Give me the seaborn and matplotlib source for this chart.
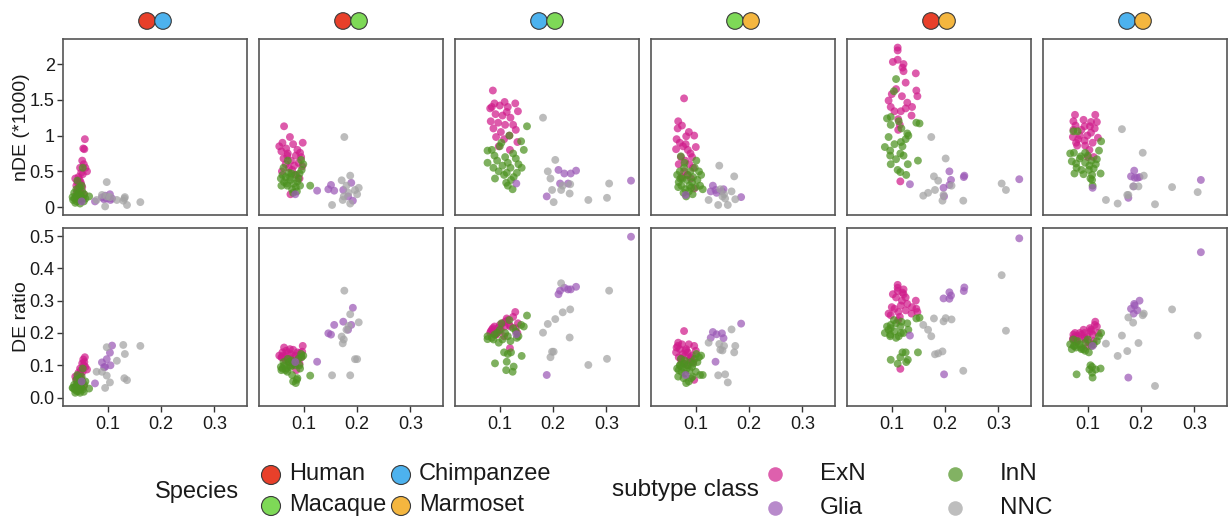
import matplotlib
matplotlib.use("Agg")
import matplotlib.pyplot as plt
from matplotlib.patches import Circle
import seaborn as sns
import pandas as pd

# ---------------- data: (x, nDE/1000, DE ratio) per subtype ----------------
HC_ExN = [(0.057,0.95,0.125),(0.054,0.82,0.118),(0.056,0.81,0.11),(0.052,0.65,0.106),(0.055,0.60,0.1),
          (0.048,0.55,0.09),(0.061,0.50,0.087),(0.050,0.48,0.085),(0.053,0.46,0.08),(0.045,0.42,0.077),
          (0.039,0.40,0.065),(0.047,0.38,0.07),(0.043,0.35,0.066),(0.050,0.32,0.06),(0.046,0.30,0.058),
          (0.041,0.30,0.055),(0.052,0.28,0.05),(0.044,0.25,0.05),(0.048,0.22,0.045),(0.042,0.20,0.04),
          (0.055,0.18,0.035),(0.051,0.12,0.03),(0.058,0.55,0.095),(0.049,0.35,0.072)]
HC_InN = [(0.035,0.10,0.03),(0.038,0.12,0.025),(0.040,0.15,0.035),(0.042,0.08,0.02),(0.044,0.18,0.04),
          (0.046,0.20,0.045),(0.048,0.05,0.015),(0.050,0.14,0.03),(0.052,0.22,0.05),(0.037,0.20,0.04),
          (0.041,0.25,0.055),(0.045,0.10,0.02),(0.047,0.28,0.06),(0.049,0.16,0.035),(0.053,0.12,0.025),
          (0.055,0.08,0.018),(0.039,0.06,0.015),(0.043,0.13,0.028),(0.051,0.30,0.065),(0.056,0.18,0.04),
          (0.043,0.37,0.07),(0.053,0.55,0.09),(0.065,0.15,0.028),(0.034,0.14,0.03),(0.058,0.12,0.05)]
HC_Glia = [(0.051,0.08,0.05),(0.076,0.08,0.044),(0.089,0.135,0.109),(0.093,0.11,0.094),(0.098,0.12,0.119),
           (0.104,0.18,0.139),(0.108,0.12,0.161),(0.105,0.10,0.1),(0.095,0.16,0.095)]
HC_NNC = [(0.098,0.35,0.156),(0.161,0.07,0.16),(0.132,0.14,0.135),(0.136,0.03,0.054),(0.095,0.01,0.03),
          (0.089,0.17,0.08),(0.117,0.10,0.114),(0.129,0.09,0.163),(0.131,0.12,0.06),(0.079,0.10,0.08),
          (0.104,0.14,0.047),(0.098,0.15,0.068)]

HM_ExN = [(0.063,1.13,0.155),(0.074,0.98,0.15),(0.098,0.90,0.16),(0.054,0.85,0.13),(0.060,0.90,0.14),
          (0.067,0.82,0.145),(0.080,0.88,0.148),(0.088,0.80,0.14),(0.093,0.76,0.138),(0.058,0.78,0.125),
          (0.070,0.75,0.12),(0.085,0.72,0.13),(0.095,0.70,0.125),(0.062,0.68,0.13),(0.076,0.65,0.135),
          (0.090,0.62,0.12),(0.066,0.60,0.115),(0.082,0.58,0.128),(0.097,0.57,0.142),(0.072,0.55,0.11),
          (0.078,0.52,0.1),(0.059,0.50,0.125),(0.086,0.45,0.085),(0.075,0.18,0.12),(0.092,0.40,0.105),
          (0.069,0.72,0.138)]
HM_InN = [(0.057,0.40,0.095),(0.060,0.45,0.09),(0.063,0.35,0.1),(0.066,0.42,0.085),(0.069,0.30,0.08),
          (0.072,0.48,0.11),(0.075,0.38,0.095),(0.078,0.25,0.07),(0.081,0.33,0.105),(0.084,0.45,0.1),
          (0.087,0.22,0.055),(0.090,0.40,0.12),(0.093,0.30,0.09),(0.096,0.52,0.125),(0.099,0.60,0.13),
          (0.062,0.55,0.11),(0.070,0.65,0.12),(0.080,0.20,0.05),(0.085,0.28,0.045),(0.074,0.42,0.1),
          (0.068,0.33,0.09),(0.088,0.36,0.06),(0.095,0.66,0.135),(0.077,0.47,0.115),(0.112,0.30,0.068),
          (0.058,0.30,0.085),(0.092,0.47,0.1)]
HM_Glia = [(0.125,0.23,0.111),(0.146,0.25,0.199),(0.151,0.31,0.195),(0.157,0.23,0.225),(0.174,0.24,0.235),
           (0.189,0.34,0.225),(0.192,0.09,0.278),(0.084,0.18,0.11),(0.183,0.15,0.21)]
HM_NNC = [(0.176,0.98,0.331),(0.187,0.44,0.258),(0.171,0.375,0.189),(0.153,0.03,0.069),(0.173,0.10,0.168),
          (0.187,0.05,0.069),(0.184,0.20,0.222),(0.196,0.24,0.119),(0.203,0.27,0.233),(0.200,0.18,0.119),
          (0.180,0.30,0.21),(0.175,0.15,0.18)]

CM_ExN = [(0.087,1.63,0.215),(0.082,1.38,0.2),(0.109,1.47,0.22),(0.129,1.45,0.265),(0.134,1.34,0.23),
          (0.085,1.40,0.21),(0.100,1.42,0.225),(0.115,1.40,0.24),(0.092,1.30,0.195),(0.105,1.28,0.23),
          (0.120,1.25,0.22),(0.083,1.20,0.205),(0.097,1.18,0.215),(0.110,1.15,0.235),(0.125,1.15,0.25),
          (0.088,1.10,0.2),(0.102,1.05,0.21),(0.118,1.00,0.225),(0.130,1.08,0.215),(0.093,0.98,0.195),
          (0.108,0.95,0.19),(0.133,0.91,0.2),(0.098,0.85,0.205),(0.119,0.80,0.153),(0.113,1.33,0.245),
          (0.090,1.45,0.22)]
CM_InN = [(0.151,1.13,0.254),(0.124,0.25,0.08),(0.112,0.34,0.085),(0.077,0.79,0.181),(0.077,0.62,0.19),
          (0.085,0.80,0.185),(0.090,0.72,0.195),(0.095,0.65,0.2),(0.100,0.85,0.21),(0.105,0.58,0.18),
          (0.110,0.70,0.2),(0.115,0.62,0.19),(0.120,0.55,0.175),(0.125,0.75,0.215),(0.130,0.68,0.205),
          (0.135,0.60,0.19),(0.140,0.92,0.225),(0.145,0.80,0.22),(0.098,0.50,0.17),(0.108,0.45,0.14),
          (0.091,0.40,0.106),(0.113,0.48,0.111),(0.126,0.42,0.096),(0.141,0.55,0.129),(0.121,0.38,0.14),
          (0.115,0.30,0.135),(0.103,0.90,0.23),(0.118,1.00,0.24),(0.132,0.48,0.185),(0.088,0.55,0.18)]
CM_Glia = [(0.346,0.37,0.498),(0.243,0.51,0.343),(0.233,0.47,0.335),(0.221,0.47,0.34),(0.213,0.33,0.331),
           (0.210,0.52,0.32),(0.188,0.15,0.07),(0.131,0.33,0.196),(0.228,0.33,0.335)]
CM_NNC = [(0.181,1.25,0.201),(0.204,0.66,0.243),(0.190,0.50,0.228),(0.195,0.40,0.125),(0.198,0.24,0.142),
          (0.201,0.07,0.142),(0.215,0.24,0.354),(0.232,0.32,0.273),(0.231,0.19,0.186),(0.266,0.10,0.101),
          (0.301,0.13,0.12),(0.305,0.33,0.331),(0.218,0.30,0.264)]

MM_ExN = [(0.078,1.52,0.206),(0.067,1.20,0.17),(0.074,1.14,0.165),(0.066,1.10,0.16),(0.082,0.99,0.15),
          (0.097,1.00,0.16),(0.100,0.84,0.145),(0.064,0.95,0.155),(0.063,0.81,0.14),(0.093,0.70,0.13),
          (0.097,0.26,0.055),(0.070,0.90,0.15),(0.076,0.85,0.135),(0.085,0.80,0.14),(0.090,0.75,0.125),
          (0.072,0.70,0.12),(0.080,0.65,0.13),(0.088,0.60,0.115),(0.095,0.55,0.11),(0.068,0.60,0.125),
          (0.078,0.50,0.105),(0.084,0.45,0.1),(0.091,0.40,0.12),(0.073,0.42,0.11),(0.087,1.05,0.165),
          (0.081,0.88,0.145)]
MM_InN = [(0.072,0.71,0.12),(0.108,0.30,0.07),(0.077,0.20,0.06),(0.065,0.45,0.09),(0.068,0.35,0.085),
          (0.070,0.50,0.1),(0.073,0.30,0.08),(0.075,0.40,0.095),(0.078,0.55,0.105),(0.080,0.25,0.075),
          (0.083,0.38,0.09),(0.085,0.45,0.1),(0.088,0.30,0.085),(0.090,0.50,0.11),(0.093,0.35,0.095),
          (0.095,0.42,0.105),(0.098,0.55,0.12),(0.100,0.28,0.08),(0.103,0.38,0.11),(0.106,0.50,0.125),
          (0.110,0.45,0.13),(0.113,0.25,0.07),(0.067,0.28,0.065),(0.082,0.15,0.045),(0.087,0.22,0.05),
          (0.094,0.18,0.065),(0.079,0.62,0.115),(0.101,0.65,0.135),(0.071,0.40,0.1),(0.091,0.27,0.06)]
MM_Glia = [(0.132,0.30,0.203),(0.139,0.20,0.196),(0.152,0.25,0.184),(0.185,0.14,0.229),(0.128,0.22,0.185),
           (0.149,0.22,0.199),(0.081,0.17,0.07),(0.137,0.24,0.111)]
MM_NNC = [(0.144,0.58,0.166),(0.172,0.43,0.14),(0.124,0.10,0.17),(0.142,0.03,0.069),(0.160,0.03,0.047),
          (0.174,0.11,0.16),(0.167,0.22,0.211),(0.153,0.18,0.16),(0.146,0.25,0.148),(0.155,0.12,0.072),
          (0.150,0.15,0.146)]

HMm_ExN = [(0.111,2.23,0.349),(0.111,2.19,0.34),(0.111,2.06,0.33),(0.102,2.03,0.32),(0.122,2.00,0.335),
           (0.122,1.90,0.32),(0.145,1.87,0.3),(0.126,1.74,0.31),(0.100,1.58,0.28),(0.119,1.55,0.3),
           (0.146,1.63,0.275),(0.148,1.55,0.265),(0.094,1.49,0.26),(0.129,1.46,0.29),(0.138,1.40,0.28),
           (0.126,1.38,0.27),(0.105,1.34,0.275),(0.117,1.34,0.285),(0.137,1.28,0.26),(0.112,1.23,0.265),
           (0.115,1.15,0.25),(0.112,1.08,0.24),(0.116,0.36,0.089),(0.108,1.65,0.31),(0.120,1.95,0.325),
           (0.098,1.40,0.255)]
HMm_InN = [(0.108,1.79,0.23),(0.104,1.62,0.24),(0.091,1.24,0.22),(0.098,1.26,0.225),(0.098,1.15,0.215),
           (0.146,1.18,0.245),(0.152,1.17,0.247),(0.129,1.03,0.23),(0.131,1.00,0.21),(0.094,0.98,0.21),
           (0.117,0.91,0.2),(0.087,0.84,0.2),(0.097,0.79,0.195),(0.097,0.72,0.19),(0.108,0.67,0.185),
           (0.116,0.75,0.22),(0.122,0.72,0.2),(0.149,0.65,0.14),(0.130,0.60,0.117),(0.111,0.52,0.105),
           (0.116,0.49,0.125),(0.127,0.45,0.11),(0.098,0.60,0.117),(0.120,0.85,0.14),(0.126,0.95,0.14),
           (0.118,1.10,0.235),(0.105,0.88,0.205),(0.113,1.20,0.19)]
HMm_Glia = [(0.339,0.39,0.493),(0.236,0.44,0.341),(0.235,0.42,0.33),(0.208,0.31,0.326),(0.211,0.38,0.316),
            (0.208,0.50,0.306),(0.197,0.27,0.307),(0.134,0.32,0.192),(0.198,0.15,0.072)]
HMm_NNC = [(0.306,0.33,0.379),(0.314,0.24,0.207),(0.174,0.98,0.19),(0.201,0.68,0.246),(0.179,0.43,0.245),
           (0.187,0.37,0.137),(0.181,0.24,0.134),(0.159,0.16,0.225),(0.168,0.20,0.21),(0.195,0.09,0.143),
           (0.197,0.17,0.236),(0.212,0.30,0.242),(0.234,0.09,0.083)]

CMm_ExN = [(0.076,1.29,0.2),(0.114,1.29,0.235),(0.092,1.22,0.21),(0.117,1.19,0.22),(0.073,1.20,0.195),
           (0.106,1.19,0.21),(0.077,1.14,0.19),(0.094,1.13,0.2),(0.104,1.13,0.215),(0.073,1.08,0.185),
           (0.088,1.08,0.195),(0.106,1.04,0.205),(0.119,0.97,0.2),(0.072,0.98,0.18),(0.082,0.95,0.19),
           (0.094,0.93,0.185),(0.109,0.90,0.195),(0.080,0.86,0.175),(0.095,0.86,0.18),(0.103,0.80,0.17),
           (0.111,0.70,0.175),(0.085,1.00,0.2),(0.099,1.00,0.19),(0.113,1.10,0.225),(0.078,0.90,0.172),
           (0.100,0.70,0.16)]
CMm_InN = [(0.081,1.06,0.175),(0.073,1.06,0.18),(0.125,0.92,0.2),(0.121,0.79,0.19),(0.067,0.75,0.165),
           (0.074,0.76,0.16),(0.087,0.71,0.155),(0.095,0.76,0.17),(0.070,0.64,0.15),(0.078,0.61,0.155),
           (0.095,0.62,0.145),(0.107,0.65,0.16),(0.117,0.67,0.175),(0.088,0.52,0.15),(0.102,0.52,0.14),
           (0.111,0.54,0.165),(0.075,0.47,0.16),(0.092,0.46,0.15),(0.124,0.47,0.09),(0.108,0.38,0.095),
           (0.109,0.30,0.062),(0.079,0.55,0.072),(0.108,0.45,0.077),(0.115,0.60,0.087),(0.103,0.58,0.087),
           (0.105,0.40,0.1),(0.085,0.68,0.165),(0.100,0.72,0.18)]
CMm_Glia = [(0.312,0.38,0.45),(0.187,0.51,0.29),(0.197,0.42,0.30),(0.188,0.41,0.285),(0.181,0.43,0.275),
            (0.193,0.41,0.27),(0.186,0.29,0.26),(0.176,0.13,0.062),(0.109,0.27,0.16)]
CMm_NNC = [(0.164,1.09,0.192),(0.203,0.76,0.255),(0.205,0.44,0.26),(0.195,0.29,0.169),(0.185,0.29,0.232),
           (0.176,0.17,0.248),(0.174,0.17,0.144),(0.134,0.10,0.167),(0.156,0.05,0.129),(0.226,0.04,0.036),
           (0.258,0.28,0.273),(0.306,0.21,0.192)]

panels = ["HC", "HM", "CM", "MM", "HMm", "CMm"]
panel_pairs = [("Human", "Chimpanzee"), ("Human", "Macaque"), ("Chimpanzee", "Macaque"),
               ("Macaque", "Marmoset"), ("Human", "Marmoset"), ("Chimpanzee", "Marmoset")]
classes = ["ExN", "InN", "Glia", "NNC"]
species = ["Human", "Chimpanzee", "Macaque", "Marmoset"]
species_colors = {"Human": "#E8402A", "Chimpanzee": "#4DB2EE", "Macaque": "#7ED957", "Marmoset": "#F4B63F"}
class_colors = {"ExN": "#D01C8B", "InN": "#4D9221", "Glia": "#9B59B6", "NNC": "#A3A3A3"}
top_ticks = [0, 0.5, 1, 1.5, 2]
top_ticklabels = ["0", "0.5", "1", "1.5", "2"]
bot_ticks = [0.0, 0.1, 0.2, 0.3, 0.4, 0.5]
bot_ticklabels = ["0.0", "0.1", "0.2", "0.3", "0.4", "0.5"]
x_ticks = [0.1, 0.2, 0.3]
x_ticklabels = ["0.1", "0.2", "0.3"]

data_map = {
    "HC": [HC_ExN, HC_InN, HC_Glia, HC_NNC],
    "HM": [HM_ExN, HM_InN, HM_Glia, HM_NNC],
    "CM": [CM_ExN, CM_InN, CM_Glia, CM_NNC],
    "MM": [MM_ExN, MM_InN, MM_Glia, MM_NNC],
    "HMm": [HMm_ExN, HMm_InN, HMm_Glia, HMm_NNC],
    "CMm": [CMm_ExN, CMm_InN, CMm_Glia, CMm_NNC],
}
rows = []
for p in panels:
    for cls, pts in zip(classes, data_map[p]):
        for (x, n, r) in pts:
            rows.append({"panel": p, "cls": cls, "x": x, "nde": n, "ratio": r})
df = pd.DataFrame(rows)

# ---------------- figure ----------------
sns.set_theme(style="white")
plt.rcParams["font.family"] = ["Liberation Sans", "DejaVu Sans"]

W, H = 1231, 523
fig = plt.figure(figsize=(W / 100, H / 100), dpi=100)

def fpos(left, top, w, h):
    return [left / W, 1 - (top + h) / H, w / W, h / H]

pw = 184
xlim = (0.016, 0.361)
for i, p in enumerate(panels):
    left = 63 + 196 * i
    sub = df[df.panel == p]
    for r, (ycol, top, h, ylim) in enumerate([("nde", 39, 176, (-0.11, 2.35)),
                                             ("ratio", 228, 178, (-0.026, 0.525))]):
        ax = fig.add_axes(fpos(left, top, pw, h))
        sns.scatterplot(data=sub, x="x", y=ycol, hue="cls", hue_order=classes,
                        palette=class_colors, s=32, alpha=0.72, linewidth=0,
                        legend=False, ax=ax)
        ax.set_xlim(*xlim)
        ax.set_ylim(*ylim)
        ax.set_xlabel("")
        ax.set_ylabel("")
        for sp in ax.spines.values():
            sp.set_visible(True)
            sp.set_color("#555555")
            sp.set_linewidth(1.2)
        if r == 1:
            ax.set_xticks(x_ticks)
            ax.set_xticklabels(x_ticklabels)
            ax.tick_params(axis="x", bottom=True, length=4, width=1, color="#333333",
                           labelsize=13, pad=3, labelcolor="#1a1a1a")
        else:
            ax.set_xticks([])
        if i == 0:
            if r == 0:
                ax.set_yticks(top_ticks)
                ax.set_yticklabels(top_ticklabels)
            else:
                ax.set_yticks(bot_ticks)
                ax.set_yticklabels(bot_ticklabels)
            ax.tick_params(axis="y", left=True, length=4, width=1, color="#333333",
                           labelsize=13, pad=2, labelcolor="#1a1a1a")
        else:
            ax.set_yticks([])

fig.text(22 / W, 1 - 127 / H, "nDE (*1000)", rotation=90, ha="center", va="center",
         fontsize=14, color="#1a1a1a")
fig.text(22 / W, 1 - 317 / H, "DE ratio", rotation=90, ha="center", va="center",
         fontsize=14, color="#1a1a1a")

# overlay for species strip circles and legend
ov = fig.add_axes([0, 0, 1, 1])
ov.set_xlim(0, W)
ov.set_ylim(H, 0)
ov.axis("off")
ov.patch.set_alpha(0)

for i, (a, b) in enumerate(panel_pairs):
    cx = 63 + 196 * i + pw / 2
    for dx, spc in [(-8, a), (8, b)]:
        ov.add_patch(Circle((cx + dx, 21), 8.3, facecolor=species_colors[spc],
                            edgecolor="#3a3a3a", linewidth=0.8))

# Species legend
ov.text(155, 492, "Species", fontsize=17, va="center", ha="left", color="#1a1a1a")
sp_pos = {"Human": (271, 475), "Chimpanzee": (401, 475), "Macaque": (271, 506), "Marmoset": (401, 506)}
for spc in species:
    cx, cy = sp_pos[spc]
    ov.add_patch(Circle((cx, cy), 9.5, facecolor=species_colors[spc], edgecolor="#3a3a3a", linewidth=0.8))
    ov.text(cx + 18, cy - 1, spc, fontsize=17, va="center", ha="left", color="#1a1a1a")

# subtype legend
ov.text(612, 490, "subtype class", fontsize=17.5, va="center", ha="left", color="#1a1a1a")
cl_pos = {"ExN": (775, 474), "Glia": (775, 508), "InN": (955, 474), "NNC": (955, 508)}
for cls in classes:
    cx, cy = cl_pos[cls]
    ov.scatter([cx], [cy], s=110, color=class_colors[cls], alpha=0.7, linewidths=0)
    ov.text(cx + 45, cy, cls, fontsize=17.5, va="center", ha="left", color="#1a1a1a")

fig.savefig("out.png", dpi=100)
